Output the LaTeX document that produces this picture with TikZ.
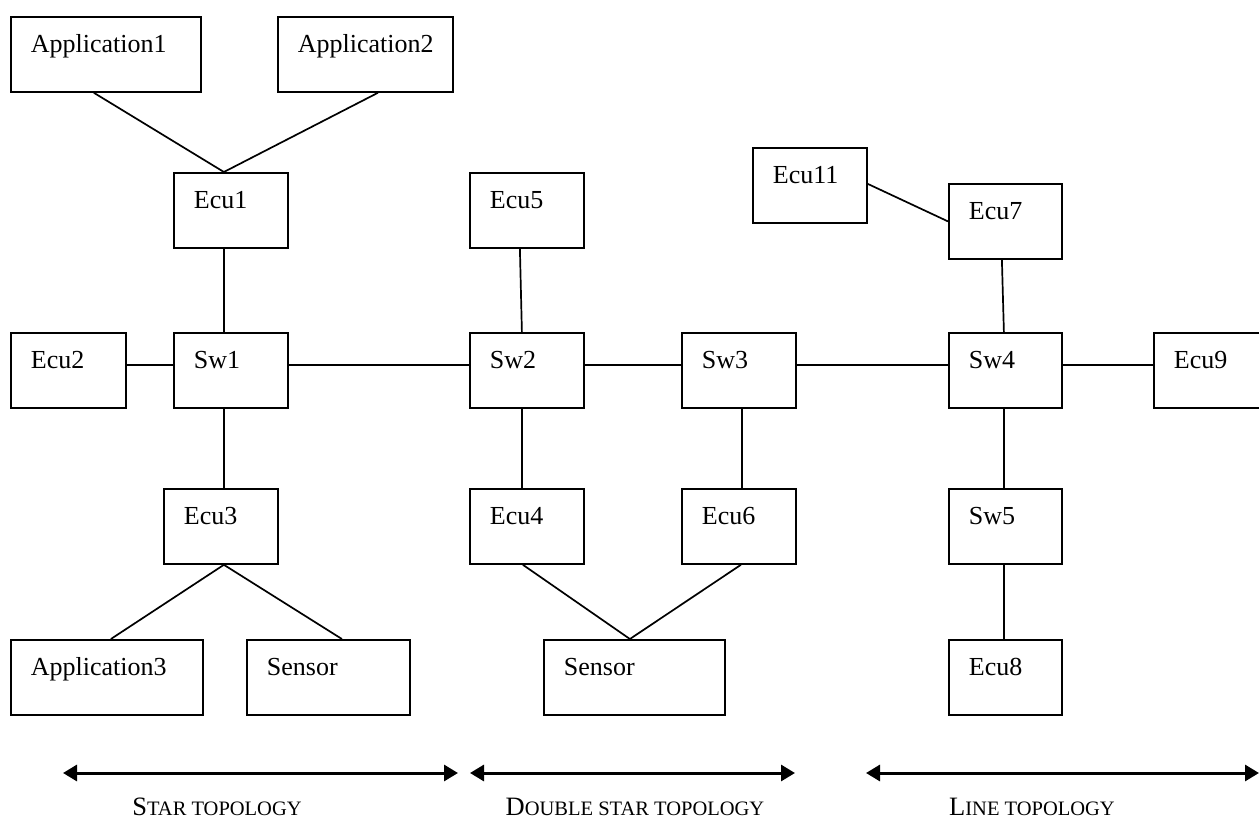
\documentclass[tikz,border=0pt]{standalone}
\usepackage{fontspec}
\setmainfont{Liberation Serif}
\usepackage{tikz}
\usetikzlibrary{arrows.meta}
\newcommand{\tsc}[1]{{\fontsize{20.5}{24}\selectfont #1}}

\begin{document}
\begin{tikzpicture}[
    x=1pt, y=1pt,
    box/.style={rectangle, draw, line width=1.8pt, anchor=north west, inner xsep=20pt, inner ysep=0pt, text height=36pt, text depth=39pt, text width=#1, align=left, font=\fontsize{26}{30}\selectfont},
    box/.default=74pt,
    lnk/.style={line width=1.7pt},
    span/.style={{Triangle[length=14pt,width=16pt]}-{Triangle[length=14pt,width=16pt]}, line width=3pt},
    topo/.style={anchor=base, font=\fontsize{26.5}{30}\selectfont},
]
\useasboundingbox (0,0) rectangle (1259,-819);

% Star topology
\node[box=150pt] (app1) at (10,-16) {Application1};
\node[box=135pt] (app2) at (277,-16) {Application2};
\node[box] (ecu1) at (173,-172) {Ecu1};
\node[box=75pt] (ecu2) at (10,-332) {Ecu2};
\node[box] (sw1) at (173,-332) {Sw1};
\node[box] (ecu3) at (163,-488) {Ecu3};
\node[box=152pt] (app3) at (10,-639) {Application3};
\node[box=123pt] (sen1) at (246,-639) {Sensor};

\draw[lnk] ([xshift=-12pt]app1.south) -- ([xshift=-7pt]ecu1.north);
\draw[lnk] ([xshift=12.5pt]app2.south) -- ([xshift=-7pt]ecu1.north);
\draw[lnk] ([xshift=-7pt]ecu1.south) -- ([xshift=-7pt]sw1.north);
\draw[lnk] ([yshift=5.5pt]ecu2.east) -- ([yshift=5.5pt]sw1.west);
\draw[lnk] ([xshift=-7pt]sw1.south) -- ([xshift=3pt]ecu3.north);
\draw[lnk] ([xshift=3pt]ecu3.south) -- ([xshift=4pt]app3.north);
\draw[lnk] ([xshift=3pt]ecu3.south) -- ([xshift=13.5pt]sen1.north);

% Double star topology
\node[box] (ecu5) at (469,-172) {Ecu5};
\node[box] (sw2) at (469,-332) {Sw2};
\node[box] (sw3) at (681,-332) {Sw3};
\node[box] (ecu4) at (469,-488) {Ecu4};
\node[box] (ecu6) at (681,-488) {Ecu6};
\node[box=141pt] (sen2) at (543,-639) {Sensor};

\draw[lnk] ([yshift=5.5pt]sw1.east) -- ([yshift=5.5pt]sw2.west);
\draw[lnk] ([xshift=-7pt]ecu5.south) -- ([xshift=-5pt]sw2.north);
\draw[lnk] ([yshift=5.5pt]sw2.east) -- ([yshift=5.5pt]sw3.west);
\draw[lnk] ([xshift=-5pt]sw2.south) -- ([xshift=-5pt]ecu4.north);
\draw[lnk] ([xshift=3pt]sw3.south) -- ([xshift=3pt]ecu6.north);
\draw[lnk] ([xshift=-4pt]ecu4.south) -- ([xshift=-4.5pt]sen2.north);
\draw[lnk] ([xshift=2pt]ecu6.south) -- ([xshift=-4.5pt]sen2.north);

% Line topology
\node[box] (ecu11) at (752,-147) {Ecu11};
\node[box=73pt] (ecu7) at (948,-183) {Ecu7};
\node[box=73pt] (sw4) at (948,-332) {Sw4};
\node[box] (ecu9) at (1153,-332) {Ecu9};
\node[box=73pt] (sw5) at (948,-488) {Sw5};
\node[box=73pt] (ecu8) at (948,-639) {Ecu8};

\draw[lnk] ([yshift=5.5pt]sw3.east) -- ([yshift=5.5pt]sw4.west);
\draw[lnk] ([yshift=5.5pt]sw4.east) -- ([yshift=5.5pt]ecu9.west);
\draw[lnk] ([yshift=1.5pt]ecu11.east) -- (ecu7.west);
\draw[lnk] ([xshift=-3.5pt]ecu7.south) -- ([xshift=-1.5pt]sw4.north);
\draw[lnk] ([xshift=-1.5pt]sw4.south) -- ([xshift=-1.5pt]sw5.north);
\draw[lnk] ([xshift=-1.5pt]sw5.south) -- ([xshift=-1.5pt]ecu8.north);

% Topology spans (bottom)
\coordinate (starL) at (63,-773);
\coordinate (starR) at (458,-773);
\coordinate (dblL) at (470,-773);
\coordinate (dblR) at (795,-773);
\coordinate (lineL) at (866,-773);
\coordinate (lineR) at (1259,-773);

\draw[span] (starL) -- (starR);
\draw[span] (dblL) -- (dblR);
\draw[span] (lineL) -- (lineR);

\node[topo] (lblstar) at (217,-815) {S\tsc{TAR TOPOLOGY}};
\node[topo] (lbldbl) at (635,-815) {D\tsc{OUBLE STAR TOPOLOGY}};
\node[topo] (lblline) at (1032,-815) {L\tsc{INE TOPOLOGY}};

\end{tikzpicture}
\end{document}
